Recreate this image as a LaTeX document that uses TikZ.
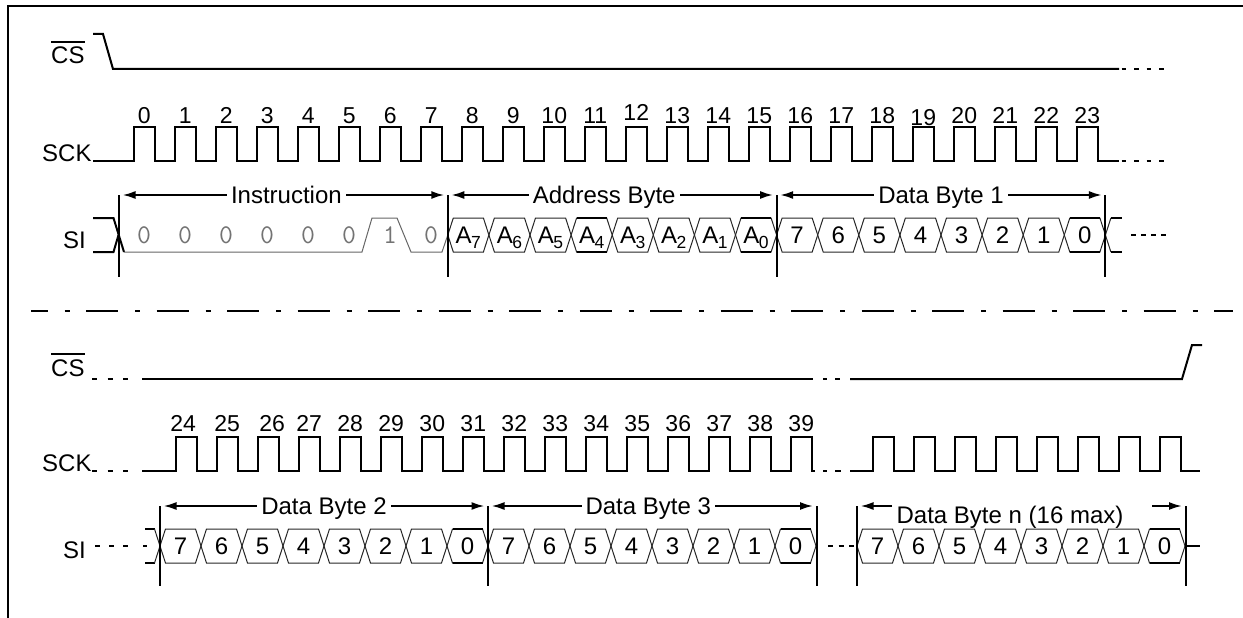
\documentclass[tikz,border=0pt]{standalone}
\usepackage{fontspec}
\setmainfont{Liberation Sans}
\usetikzlibrary{arrows.meta}
\newcommand\ovbar[1]{\vbox{\hrule height 2pt\kern 4.5pt\hbox{#1}}}
\newcommand\asub[1]{A\kern-0.5pt\raisebox{-5pt}{\fontsize{17.5}{17.5}\selectfont #1}}
\begin{document}
\begin{tikzpicture}[x=1pt,y=-1pt,
  lbl/.style={font=\fontsize{24}{27}\selectfont, inner sep=0pt, anchor=base west},
  num/.style={font=\fontsize{23}{25}\selectfont, inner sep=0pt, anchor=base},
  bitlbl/.style={font=\ttfamily\fontsize{27}{30}\selectfont, text=black!55, inner sep=0pt, anchor=base},
  hexlbl/.style={font=\fontsize{24}{27}\selectfont, inner sep=0pt, anchor=base},
  dimlbl/.style={font=\fontsize{24}{27}\selectfont, inner ysep=0pt, inner xsep=4pt, fill=white, anchor=base, yshift=-8.6pt},
  sig/.style={line width=2pt, black},
  hexline/.style={line width=1pt, black!85},
  boldhex/.style={line width=2pt, black},
  gline/.style={line width=1pt, black!60},
  marker/.style={line width=2pt, black},
  dimarrow/.style={line width=2pt, {Latex[length=13pt,width=8pt]}-{Latex[length=13pt,width=8pt]}, shorten <=3.5pt, shorten >=3.5pt},
  onearrow/.style={line width=2pt, -{Latex[length=13pt,width=8pt]}, shorten >=3.5pt},
  smalldash/.style={sig, dash pattern=on 4.5pt off 8pt},
]
\useasboundingbox (0,0) rectangle (1243,618);
% frame
\draw[line width=2.5pt] (8,618) -- (8,6) -- (1243,6);

% ================= TOP =================
\node[lbl] (cs1) at (51,64) {\ovbar{CS}};
\node[lbl] (sck1) at (42,161) {SCK};
\node[lbl] (si1) at (63,248) {SI};

% CS
\draw[sig] (93,34) -- (103,34) -- (113,69) -- (1119,69);
\draw[smalldash] (1121.5,69) -- (1166,69);

% SCK
\draw[sig] (93,161) \foreach \k in {0,...,23} { -- ({134+41*\k},161) -- ({134+41*\k},127) -- ({154.5+41*\k},127) -- ({154.5+41*\k},161) } -- (1119,161);
\draw[smalldash] (1121.5,161) -- (1166,161);
\foreach \k in {0,...,23} {
  \pgfmathsetmacro\dy{(\k==12)*(-2)+(\k==19)*(2)}
  \node[num] (n\k) at ({144.25+41*\k},{123+\dy}) {\k};
}

% SI instruction
\draw[sig] (93,218) -- (113.5,218) -- (124,252);
\draw[sig] (93,252) -- (113.5,252) -- (118.5,235);
\draw[gline] (124,252) -- (362,252) -- (372,218) -- (397,218) -- (411,252) -- (442,252) -- (447.8,235);
\foreach \k/\b in {0/0,1/0,2/0,3/0,4/0,5/0,6/1,7/0} {
  \node[bitlbl] (b\k) at ({144+41*\k},243) {\b};
}
% hexes address + data byte 1
\foreach \t [count=\i from 8] in {\asub7,\asub6,\asub5,\asub4,\asub3,\asub2,\asub1,\asub0,7,6,5,4,3,2,1,0} {
  \pgfmathsetmacro\xa{119+41.1*\i}
  \pgfmathsetmacro\xb{119+41.1*(\i+1)}
  \draw[hexline] (\xa,235) -- (\xa+5.5,218) -- (\xb-5.5,218) -- (\xb,235) -- (\xb-5.5,252) -- (\xa+5.5,252) -- cycle;
  \node[hexlbl] (h\i) at ({(\xa+\xb)/2},243.6) {\t};
}
\foreach \i in {11,15,23} {
  \pgfmathsetmacro\xa{119+41.1*\i}
  \pgfmathsetmacro\xb{119+41.1*(\i+1)}
  \draw[boldhex] (\xa+5.5,218) -- (\xb-5.5,218);
  \draw[boldhex] (\xa+5.5,252) -- (\xb-5.5,252);
}
% end of top SI
\draw[hexline] (1110.9,218) -- (1105.4,235) -- (1110.9,252);
\draw[sig] (1110.9,218) -- (1122,218);
\draw[sig] (1110.9,252) -- (1122,252);
\draw[sig, dash pattern=on 5pt off 5pt] (1131,235) -- (1166,235);

% markers and dimension arrows top
\foreach \n/\x in {t0/119, t8/447.8, t16/776.6, t24/1105.4} {
  \coordinate (\n) at (\x,195);
  \draw[marker] (\x,195) -- (\x,277);
}
\draw[dimarrow] (t0) -- node[dimlbl, xshift=3pt] (lInstr) {Instruction} (t8);
\draw[dimarrow] (t8) -- node[dimlbl, xshift=-8pt] (lAddr) {Address Byte} (t16);
\draw[dimarrow] (t16) -- node[dimlbl] (lD1) {Data Byte 1} (t24);

% ================= separator =================
\draw[line width=2pt, dash pattern=on 32pt off 17pt on 5pt off 16.5pt, dash phase=15.5pt] (31,311) -- (1233,311);

% ================= BOTTOM =================
\node[lbl] (cs2) at (51,376) {\ovbar{CS}};
\node[lbl] (sck2) at (42,471) {SCK};
\node[lbl] (si2) at (63,558) {SI};

% CS
\draw[sig, dash pattern=on 5pt off 10.5pt] (92,379) -- (130,379);
\draw[sig] (142,379) -- (813,379);
\draw[sig] (823,379) -- (827,379);
\draw[sig] (835,379) -- (840,379);
\draw[sig] (850,379) -- (1182,379) -- (1192,345) -- (1202,345);

% SCK
\draw[sig, dash pattern=on 5pt off 10.5pt] (92,471) -- (130,471);
\draw[sig] (142,471) \foreach \m in {0,...,15} { -- ({176+41*\m},471) -- ({176+41*\m},437) -- ({196.5+41*\m},437) -- ({196.5+41*\m},471) } -- (815,471);
\draw[sig] (823,471) -- (827,471);
\draw[sig] (835,471) -- (841,471);
\draw[sig] (850,471) \foreach \m in {0,...,7} { -- ({873+41*\m},471) -- ({873+41*\m},437) -- ({893.5+41*\m},437) -- ({893.5+41*\m},471) } -- (1200,471);
\foreach \m in {0,...,15} {
  \pgfmathtruncatemacro\lab{24+\m}
  \pgfmathsetmacro\dx{(\m==0)*(-3)+(\m==2)*4}
  \node[num] (n\lab) at ({186.25+41*\m+\dx},431) {\lab};
}

% SI bottom
\draw[sig] (95,546) -- (100,546);
\draw[sig] (109,546) -- (114,546);
\draw[sig] (123,546) -- (128,546);
\draw[sig] (143,546) -- (147,546);
\draw[sig] (145,529) -- (154.5,529);
\draw[sig] (145,563) -- (154.5,563);
\draw[hexline] (154.5,529) -- (160,546) -- (154.5,563);
\foreach \t [count=\i from 0] in {7,6,5,4,3,2,1,0,7,6,5,4,3,2,1,0} {
  \pgfmathsetmacro\xa{160+41*\i}
  \pgfmathsetmacro\xb{160+41*(\i+1)}
  \draw[hexline] (\xa,546) -- (\xa+5.5,529) -- (\xb-5.5,529) -- (\xb,546) -- (\xb-5.5,563) -- (\xa+5.5,563) -- cycle;
  \node[hexlbl] (g\i) at ({(\xa+\xb)/2},554.6) {\t};
}
\draw[sig, dash pattern=on 5pt off 5.5pt] (828,546) -- (854,546);
\foreach \t [count=\i from 0] in {7,6,5,4,3,2,1,0} {
  \pgfmathsetmacro\xa{857+41*\i}
  \pgfmathsetmacro\xb{857+41*(\i+1)}
  \draw[hexline] (\xa,546) -- (\xa+5.5,529) -- (\xb-5.5,529) -- (\xb,546) -- (\xb-5.5,563) -- (\xa+5.5,563) -- cycle;
  \node[hexlbl] (k\i) at ({(\xa+\xb)/2},554.6) {\t};
}
\foreach \x in {447,775,1144} {
  \draw[boldhex] (\x+5.5,529) -- (\x+35.5,529);
  \draw[boldhex] (\x+5.5,563) -- (\x+35.5,563);
}
\draw[sig] (1185,546) -- (1200,546);

% markers bottom
\foreach \n/\x in {b0/160, b8/488, b16/816.5, c0/857, c8/1185.5} {
  \coordinate (\n) at (\x,506);
  \draw[marker] (\x,506) -- (\x,586);
}
\draw[dimarrow] (b0) -- node[dimlbl] (lD2) {Data Byte 2} (b8);
\draw[dimarrow] (b8) -- node[dimlbl, xshift=-4pt] (lD3) {Data Byte 3} (b16);
\node[dimlbl, yshift=0pt, inner xsep=0pt, fill=none] (lDn) at (1010,514.6) {Data Byte n (16 max)};
\coordinate (nl) at (892,506);
\coordinate (nr) at (1152,506);
\draw[onearrow] (nl) -- (c0);
\draw[onearrow] (nr) -- (c8);
\end{tikzpicture}
\end{document}
